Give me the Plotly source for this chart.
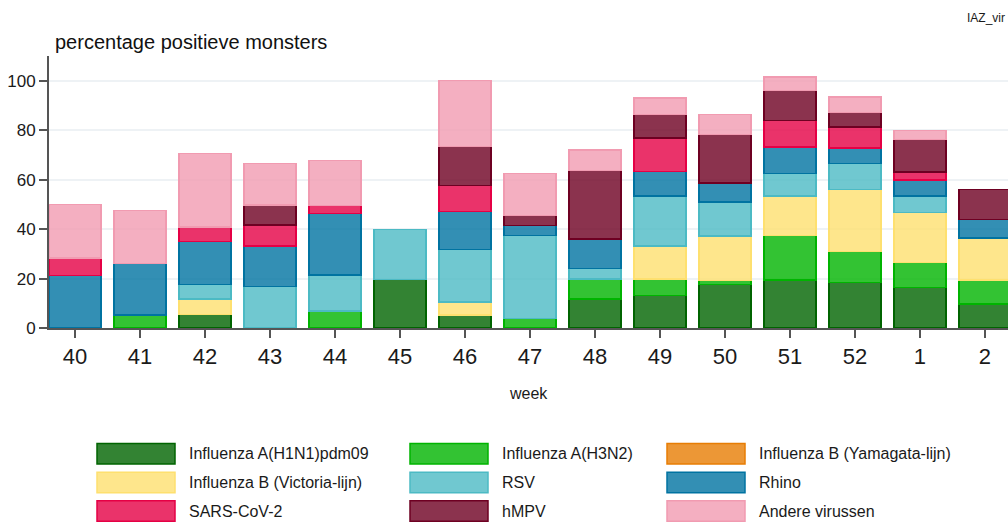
import plotly.graph_objects as go

weeks = ["40", "41", "42", "43", "44", "45", "46", "47", "48", "49", "50", "51", "52", "1", "2"]

h1n1      = [0.0, 0.0, 5.5, 0.0, 0.0, 19.7, 5.2, 0.0, 11.7, 13.2, 17.6, 19.4, 18.4, 16.4, 9.7]
h3n2      = [0.0, 5.2, 0.0, 0.0, 6.9, 0.0, 0.0, 3.9, 8.1, 6.6, 1.6, 18.0, 12.6, 10.1, 9.7]
yamagata  = [0.0] * 15
victoria  = [0.0, 0.0, 6.2, 0.0, 0.0, 0.0, 5.3, 0.0, 0.0, 13.4, 18.1, 15.9, 25.1, 20.2, 17.1]
rsv       = [0.0, 0.0, 5.9, 16.8, 14.5, 20.1, 21.3, 33.5, 4.2, 20.2, 13.7, 9.1, 10.5, 6.6, 0.0]
rhino     = [21.3, 20.9, 17.4, 16.4, 24.9, 0.0, 15.3, 4.1, 11.9, 9.9, 7.7, 10.7, 6.2, 6.5, 7.4]
sars      = [7.1, 0.0, 5.9, 8.4, 3.2, 0.0, 10.6, 0.0, 0.0, 13.6, 0.0, 10.9, 8.5, 3.3, 0.0]
hmpv      = [0.0, 0.0, 0.0, 8.1, 0.0, 0.0, 15.8, 4.0, 27.8, 9.4, 19.5, 12.1, 5.9, 13.2, 12.1]
andere    = [21.5, 21.4, 29.6, 16.8, 18.2, 0.0, 26.5, 16.9, 8.2, 6.8, 8.1, 5.5, 6.3, 3.5, 0.0]

names = ["Influenza A(H1N1)pdm09", "Influenza A(H3N2)", "Influenza B (Yamagata-lijn)",
         "Influenza B (Victoria-lijn)", "RSV", "Rhino",
         "SARS-CoV-2", "hMPV", "Andere virussen"]
series = [h1n1, h3n2, yamagata, victoria, rsv, rhino, sars, hmpv, andere]
base_colors = [(0, 100, 0), (0, 180, 0), (231, 125, 4),
               (254, 224, 111), (76, 186, 196), (0, 115, 161),
               (229, 0, 69), (110, 0, 34), (241, 155, 177)]

def rgba(c, a):
    return f"rgba({c[0]},{c[1]},{c[2]},{a})"

fig = go.Figure()
for name, vals, col in zip(names, series, base_colors):
    fig.add_trace(go.Bar(
        x=weeks, y=[v if v > 0 else None for v in vals], name=name,
        marker=dict(color=rgba(col, 0.8), line=dict(color=rgba(col, 1), width=1.5)),
        showlegend=False,
    ))

W, H = 1008, 522
L, R, T, B = 49, 0, 56, 194
pw, ph = W - L - R, H - T - B

def px_x(px):
    return (px - L) / pw

def px_y(py):
    return (H - B - py) / ph

shapes = []
annotations = []

# custom legend (3 columns x 3 rows)
col_x = [97, 410, 667]
row_y = [453.7, 482.5, 511.0]
sw_w, sw_h = 78, 20.5
for i, (name, col) in enumerate(zip(names, base_colors)):
    r, c = divmod(i, 3)
    x0 = col_x[c]
    yc = row_y[r]
    shapes.append(dict(type="rect", xref="paper", yref="paper",
                       x0=px_x(x0), x1=px_x(x0 + sw_w),
                       y0=px_y(yc + sw_h / 2), y1=px_y(yc - sw_h / 2),
                       fillcolor=rgba(col, 0.8), line=dict(color=rgba(col, 1), width=1.5)))
    annotations.append(dict(xref="paper", yref="paper", x=px_x(x0 + 90), y=px_y(yc),
                            text=name, showarrow=False, xanchor="left", yanchor="middle",
                            font=dict(size=16, color="#1a1a1a")))

annotations.append(dict(xref="paper", yref="paper", x=px_x(53), y=px_y(42),
                        text="percentage positieve monsters", showarrow=False,
                        xanchor="left", yanchor="middle", font=dict(size=20, color="#111")))
annotations.append(dict(xref="paper", yref="paper", x=0.5, y=px_y(393),
                        text="week", showarrow=False, xanchor="center", yanchor="middle",
                        font=dict(size=16, color="#1a1a1a")))
annotations.append(dict(xref="paper", yref="paper", x=px_x(1007), y=px_y(18),
                        text="IAZ_vir", showarrow=False, xanchor="right", yanchor="middle",
                        font=dict(size=12, color="#1a1a1a")))

fig.update_layout(
    width=W, height=H,
    margin=dict(l=L, r=R, t=T, b=B, pad=0),
    barmode="stack", bargap=0.2,
    plot_bgcolor="white", paper_bgcolor="white",
    font=dict(family="Liberation Sans, Arial, sans-serif", color="#1a1a1a"),
    shapes=shapes, annotations=annotations,
    xaxis=dict(type="category", range=[-0.4, 14.355], showgrid=False,
               showline=True, linecolor="#555555", linewidth=2,
               ticks="outside", ticklen=8, tickwidth=2, tickcolor="#555555",
               tickfont=dict(size=22, color="#1a1a1a"), fixedrange=True),
    yaxis=dict(range=[0, 110], tickvals=[0, 20, 40, 60, 80, 100],
               showgrid=True, gridcolor="#EEF2F5", gridwidth=2, zeroline=False,
               showline=True, linecolor="#555555", linewidth=2,
               ticks="outside", ticklen=8, tickwidth=2, tickcolor="#555555",
               tickfont=dict(size=17, color="#1a1a1a"), fixedrange=True),
)

fig.write_html("out.html", config={"displayModeBar": False},
               post_script="document.body.style.margin='0';document.body.style.overflow='hidden';")
